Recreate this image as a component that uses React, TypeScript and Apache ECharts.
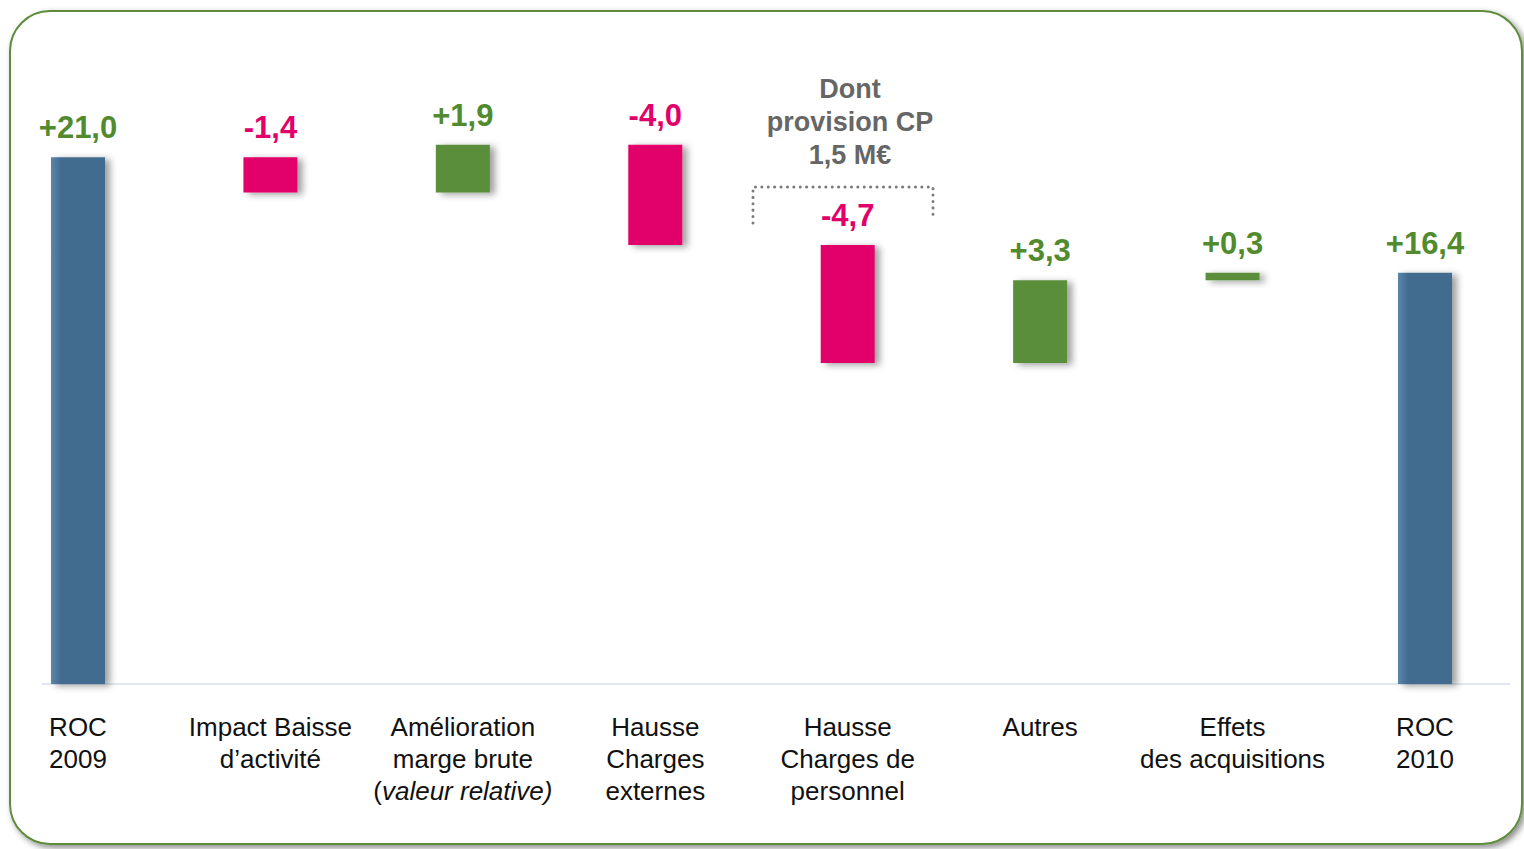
import React, { useEffect, useRef } from "react";
import * as echarts from "echarts";

const categories = [
  "ROC\n2009",
  "Impact Baisse\nd’activité",
  "Amélioration\nmarge brute\n(valeur relative)",
  "Hausse\nCharges\nexternes",
  "Hausse\nCharges de\npersonnel",
  "Autres",
  "Effets\ndes acquisitions",
  "ROC\n2010",
];
const changes = [21.0, -1.4, 1.9, -4.0, -4.7, 3.3, 0.3, 16.4];
const isTotal = [true, false, false, false, false, false, false, true];
const noteLines = ["Dont", "provision CP", "1,5 M€"];

const BLUE = "#436C8F";
const GREEN_BAR = "#5A8E3A";
const GREEN_TXT = "#528A2E";
const MAGENTA = "#E2006A";
const FONT = "'Liberation Sans', Arial, sans-serif";

function fmt(v: number) {
  return (v >= 0 ? "+" : "-") + Math.abs(v).toFixed(1).replace(".", ",");
}

export default function App() {
  const ref = useRef<HTMLDivElement>(null);
  useEffect(() => {
    if (!ref.current) return;
    const chart = echarts.init(ref.current, undefined, { renderer: "svg" });

    const bases: number[] = [];
    const heights: number[] = [];
    let running = 0;
    changes.forEach((d, i) => {
      if (isTotal[i]) {
        bases.push(0);
        heights.push(d);
        running = d;
      } else if (d >= 0) {
        bases.push(running);
        heights.push(d);
        running += d;
      } else {
        running += d;
        bases.push(running);
        heights.push(-d);
      }
    });

    const blueGrad = new echarts.graphic.LinearGradient(0, 0, 1, 0, [
      { offset: 0, color: "#5B86AC" },
      { offset: 0.18, color: BLUE },
      { offset: 1, color: BLUE },
    ]);

    const visible = heights.map((h, i) => {
      const d = changes[i];
      const barColor = isTotal[i] ? blueGrad : d >= 0 ? GREEN_BAR : MAGENTA;
      const txtColor = d >= 0 ? GREEN_TXT : MAGENTA;
      return {
        value: h,
        itemStyle: { color: barColor },
        label: { color: txtColor },
      };
    });

    const labelFormatter = (val: string) =>
      val
        .split("\n")
        .map((l) => (l.startsWith("(") ? `{n|(}{i|${l.slice(1)}}` : `{n|${l}}`))
        .join("\n");

    const baseText = {
      fontFamily: FONT,
      fontSize: 26,
      color: "#111",
      lineHeight: 32,
    };

    chart.setOption({
      animation: false,
      backgroundColor: "#ffffff",
      grid: { left: 78, right: 99, top: 57, bottom: 165, containLabel: false },
      xAxis: {
        type: "category",
        data: categories,
        boundaryGap: false,
        axisLine: { show: false },
        axisTick: { show: false },
        splitLine: { show: false },
        axisLabel: {
          interval: 0,
          margin: 27,
          ...baseText,
          formatter: labelFormatter,
          rich: {
            n: { ...baseText },
            i: { ...baseText, fontStyle: "italic" },
          },
        },
      },
      yAxis: {
        type: "value",
        min: 0,
        max: 25,
        show: false,
        splitLine: { show: false },
      },
      series: [
        {
          type: "bar",
          stack: "wf",
          data: bases,
          barWidth: 54,
          clip: false,
          itemStyle: { color: "rgba(0,0,0,0)" },
          emphasis: { disabled: true },
          silent: true,
        },
        {
          type: "bar",
          stack: "wf",
          data: visible,
          barWidth: 54,
          clip: false,
          itemStyle: {
            shadowBlur: 7,
            shadowOffsetX: 5,
            shadowOffsetY: 2,
            shadowColor: "rgba(0,0,0,0.38)",
          },
          label: {
            show: true,
            position: "top",
            distance: 14,
            fontFamily: FONT,
            fontWeight: "bold",
            fontSize: 31,
            formatter: (p: any) => fmt(changes[p.dataIndex]),
          },
        },
      ],
      graphic: [
        {
          type: "rect",
          z: -10,
          shape: { x: 10, y: 11, width: 1512, height: 833, r: 40 },
          style: {
            fill: "#ffffff",
            stroke: "#5E8B3C",
            lineWidth: 2,
            shadowBlur: 6,
            shadowOffsetX: 3,
            shadowOffsetY: 3,
            shadowColor: "rgba(0,0,0,0.45)",
          },
        },
        {
          type: "line",
          z: 1,
          shape: { x1: 42, y1: 684, x2: 1510, y2: 684 },
          style: { stroke: "#D6DFEA", lineWidth: 1.5 },
        },
        {
          type: "polyline",
          z: 5,
          shape: {
            points: [
              [753, 223],
              [753, 187],
              [933, 187],
              [933, 215],
            ],
          },
          style: {
            stroke: "#7C7C7C",
            lineWidth: 3,
            lineDash: [0.1, 6.3],
            lineCap: "round",
            fill: "none",
          },
        },
        {
          type: "text",
          z: 5,
          x: 850,
          y: 72,
          style: {
            text: noteLines.join("\n"),
            fontFamily: FONT,
            fontWeight: "bold",
            fontSize: 27,
            lineHeight: 33,
            fill: "#666666",
            align: "center",
            verticalAlign: "top",
          },
        },
      ],
    });
    return () => chart.dispose();
  }, []);
  return (
    <div
      ref={ref}
      style={{ position: "fixed", left: 0, top: 0, width: 1524, height: 849 }}
    />
  );
}
